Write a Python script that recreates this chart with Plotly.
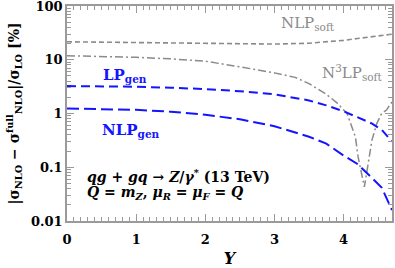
import plotly.graph_objects as go

# ---- data ----
Y = [0.0, 0.5, 1.0, 1.5, 2.0, 2.5, 3.0, 3.5, 3.75, 4.0, 4.2, 4.4, 4.55, 4.7]
nlp_soft = [21.6, 21.3, 21.0, 20.6, 20.2, 19.8, 19.6, 20.3, 21.3, 23.0, 24.8, 26.8, 28.3, 30.0]
lp_gen = [3.24, 3.22, 3.15, 3.02, 2.85, 2.60, 2.28, 1.75, 1.42, 1.10, 0.85, 0.66, 0.50, 0.30]
nlp_gen = [1.24, 1.22, 1.17, 1.08, 0.95, 0.78, 0.58, 0.37, 0.275, 0.165, 0.115, 0.065, 0.042, 0.016]

Y_n3 = [0.0, 0.5, 1.0, 1.5, 2.0, 2.5, 3.0, 3.3, 3.5, 3.73, 3.9, 4.05, 4.17, 4.21, 4.26,
        4.30, 4.34, 4.41, 4.48, 4.55, 4.62, 4.7]
n3lp_soft = [11.9, 11.6, 11.1, 10.4, 9.4, 7.4, 5.7, 4.7, 3.6, 2.37, 1.6, 1.0, 0.37, 0.156, 0.077,
             0.043, 0.088, 0.32, 0.65, 1.0, 1.16, 1.65]

y_tickvals = [0.01, 0.1, 1, 10, 100]
y_ticktext = ["0.01", "0.1", "1", "10", "100"]
x_tickvals = [0, 1, 2, 3, 4]

BLUE = "#1414ff"
GRAY = "#8a8a8a"
AX = "#9a9a9a"
FONT = "DejaVu Serif"

fig = go.Figure()
fig.add_trace(go.Scatter(x=Y, y=nlp_soft, mode="lines",
                         line=dict(color=GRAY, width=1.6, dash="5px,3px")))
fig.add_trace(go.Scatter(x=Y_n3, y=n3lp_soft, mode="lines",
                         line=dict(color=GRAY, width=1.5, dash="8px,3px,2px,3px")))
fig.add_trace(go.Scatter(x=Y, y=lp_gen, mode="lines",
                         line=dict(color=BLUE, width=2, dash="9px,5px")))
fig.add_trace(go.Scatter(x=Y, y=nlp_gen, mode="lines",
                         line=dict(color=BLUE, width=2, dash="12px,5px")))

minor_y = []
for d in [0.01, 0.1, 1, 10]:
    for k in range(2, 10):
        minor_y.append(k * d)

tickfont = dict(family=FONT, size=13, color="black", weight="bold")

fig.update_xaxes(range=[0, 4.7], tickvals=x_tickvals, ticks="inside", ticklen=7,
                 tickcolor=AX, tickwidth=1.2, showline=True, linecolor=AX, linewidth=1.5,
                 mirror="ticks", showgrid=False, zeroline=False, tickfont=tickfont,
                 automargin=False, ticklabeloverflow="allow", ticklabelstandoff=6,
                 minor=dict(dtick=0.1, ticks="inside", ticklen=4, tickcolor=AX, showgrid=False),
                 title=dict(text="<b><i>Y</i></b>", font=dict(family=FONT, size=16, color="black"),
                            standoff=10))
fig.update_yaxes(type="log", range=[-2, 2.0005], tickvals=y_tickvals, ticktext=y_ticktext,
                 ticks="inside", ticklen=7, tickcolor=AX, tickwidth=1.2, showline=True,
                 linecolor=AX, linewidth=1.5, mirror="ticks", showgrid=False, zeroline=False,
                 tickfont=tickfont, automargin=False, ticklabeloverflow="allow",
                 minor=dict(tickvals=minor_y, ticks="inside", ticklen=4, tickcolor=AX, showgrid=False),
                 title=dict(text="<b>|σ<sub>NLO</sub> − σ<sup>full</sup><sub>NLO</sub>|/σ<sub>LO</sub> [%]</b>",
                            font=dict(family=FONT, size=14, color="black"), standoff=8))

def note(x, y, text, color, size=15, anchor="center"):
    fig.add_annotation(x=x, y=y, xref="x", yref="y", text=text, showarrow=False,
                       xanchor=anchor, yanchor="middle",
                       font=dict(family=FONT, size=size, color=color))

note(3.49, 1.68, "NLP<sub>soft</sub>", GRAY)
note(4.12, 0.76, "N<sup>3</sup>LP<sub>soft</sub>", GRAY)
note(0.84, 0.71, "<b>LP<sub>gen</sub></b>", BLUE)
note(0.93, -0.31, "<b>NLP<sub>gen</sub></b>", BLUE)
note(0.26, -1.17, "<b><i>qg</i> + <i>gq</i> → <i>Z</i>/<i>γ</i><sup>*</sup> (13 TeV)</b>", "black", 14, "left")
note(0.26, -1.47, "<b><i>Q</i> = <i>m<sub>Z</sub></i>, <i>μ<sub>R</sub></i> = <i>μ<sub>F</sub></i> = <i>Q</i></b>", "black", 14, "left")

fig.update_layout(width=395, height=268, margin=dict(l=67, r=3, t=6, b=47),
                  paper_bgcolor="white", plot_bgcolor="white", showlegend=False)

fig.write_html("out.html", config={"displayModeBar": False},
               post_script="document.body.style.margin='0';document.body.style.padding='0';")
